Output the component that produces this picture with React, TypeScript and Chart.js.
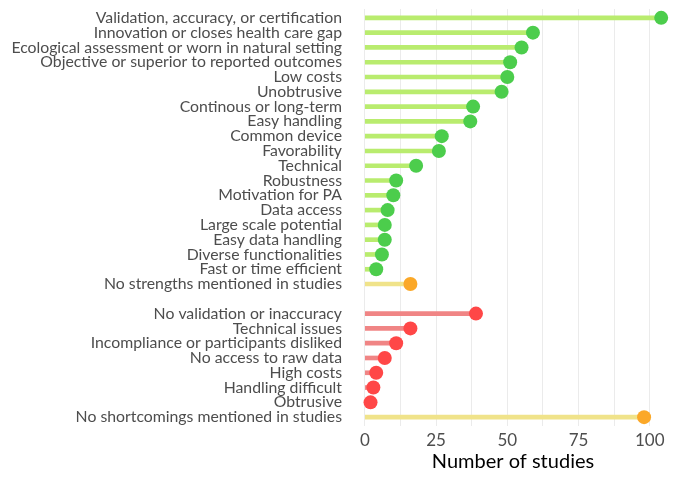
import React, { useEffect, useRef } from "react";
import { Chart, registerables } from "chart.js";

Chart.register(...registerables);

const categories: string[] = [
  "Validation, accuracy, or certification",
  "Innovation or closes health care gap",
  "Ecological assessment or worn in natural setting",
  "Objective or superior to reported outcomes",
  "Low costs",
  "Unobtrusive",
  "Continous or long-term",
  "Easy handling",
  "Common device",
  "Favorability",
  "Technical",
  "Robustness",
  "Motivation for PA",
  "Data access",
  "Large scale potential",
  "Easy data handling",
  "Diverse functionalities",
  "Fast or time efficient",
  "No strengths mentioned in studies",
  "",
  "No validation or inaccuracy",
  "Technical issues",
  "Incompliance or participants disliked",
  "No access to raw data",
  "High costs",
  "Handling difficult",
  "Obtrusive",
  "No shortcomings mentioned in studies",
];

const studies: (number | null)[] = [
  104, 59, 55, 51, 50, 48, 38, 37, 27, 26, 18, 11, 10, 8, 7, 7, 6, 4, 16,
  null,
  39, 16, 11, 7, 4, 3, 2, 98,
];

// group of each row: s = strength, n = none mentioned, w = weakness
const groups: string[] = [
  "s", "s", "s", "s", "s", "s", "s", "s", "s", "s", "s", "s", "s", "s", "s", "s", "s", "s", "n",
  "",
  "w", "w", "w", "w", "w", "w", "w", "n",
];

const xTicks: number[] = [0, 25, 50, 75, 100];

const lineColors: Record<string, string> = { s: "#b9ec6e", w: "#f08585", n: "#f0e38a", "": "transparent" };
const pointColors: Record<string, string> = { s: "#4ccd4c", w: "#ff4747", n: "#fba828", "": "transparent" };

export default function App() {
  const ref = useRef<HTMLCanvasElement>(null);
  useEffect(() => {
    if (!ref.current) return;
    const rows = categories.map((c, i) => ({ x: studies[i], y: i }));
    const valid = rows.filter((r) => r.x !== null) as { x: number; y: number }[];
    const chart = new Chart(ref.current, {
      type: "bar",
      data: {
        datasets: [
          {
            type: "bar",
            indexAxis: "y",
            order: 2,
            data: valid.map((r) => ({ x: r.x, y: r.y })),
            backgroundColor: valid.map((r) => lineColors[groups[r.y]]),
            barThickness: 4,
            borderWidth: 0,
          } as any,
          {
            type: "scatter",
            order: 1,
            data: valid.map((r) => ({ x: r.x, y: r.y })),
            backgroundColor: valid.map((r) => pointColors[groups[r.y]]),
            pointRadius: 7,
            borderWidth: 0,
          } as any,
        ],
      },
      options: {
        animation: false,
        responsive: false,
        maintainAspectRatio: false,
        indexAxis: "y",
        layout: { padding: { left: 0, right: 9, top: 9, bottom: 0 } },
        plugins: { legend: { display: false }, tooltip: { enabled: false } },
        scales: {
          x: {
            type: "linear",
            offset: false,
            min: -5.2,
            max: 109.2,
            afterBuildTicks: (s: any) => {
              const t: any[] = [];
              for (let v = 0; v <= 100; v += 12.5) t.push({ value: v });
              s.ticks = t;
            },
            afterFit: (s: any) => {
              s.height = 52;
              s.paddingLeft = 0;
              s.paddingRight = 0;
            },
            grid: { color: "#ebebeb", lineWidth: 1, drawTicks: false, offset: false },
            border: { display: false },
            ticks: {
              padding: 4,
              color: "#4d4d4d",
              font: { family: "Lato", size: 17 },
              callback: (v: any) => (xTicks.includes(Number(v)) ? String(v) : ""),
            },
            title: {
              display: true,
              text: "Number of studies",
              color: "#000000",
              font: { family: "Lato", size: 20 },
              padding: { top: 0, bottom: 4 },
            },
          },
          y: {
            type: "linear",
            offset: false,
            reverse: true,
            min: -0.6,
            max: categories.length - 1 + 0.6,
            afterBuildTicks: (s: any) => {
              s.ticks = categories.map((_, i) => ({ value: i }));
            },
            afterFit: (s: any) => {
              s.width = 350;
              s.paddingTop = 0;
              s.paddingBottom = 0;
            },
            grid: { display: false, drawTicks: false, offset: false },
            border: { display: false },
            ticks: {
              autoSkip: false,
              padding: 8,
              color: "#4d4d4d",
              font: { family: "Lato", size: 15.8 },
              callback: (v: any) => categories[Number(v)] ?? "",
            },
          },
        },
      },
    });
    return () => chart.destroy();
  }, []);
  return (
    <div style={{ position: "fixed", left: 0, top: 0, width: 685, height: 478, background: "#fff" }}>
      <canvas ref={ref} width={685} height={478} />
    </div>
  );
}
